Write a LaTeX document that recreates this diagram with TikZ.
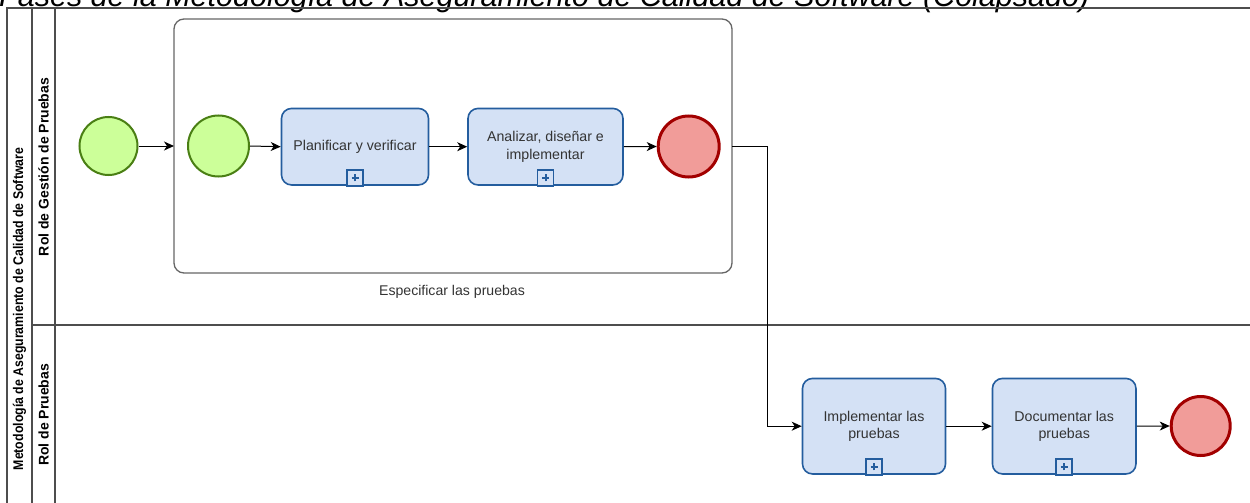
\documentclass[tikz,border=0pt]{standalone}
\usepackage{fontspec}
\setmainfont{Liberation Sans}
\usetikzlibrary{arrows.meta,calc}
\definecolor{startfill}{HTML}{CCFF99}
\definecolor{startdraw}{HTML}{4A7F14}
\definecolor{endfill}{HTML}{F19C99}
\definecolor{enddraw}{HTML}{A20000}
\definecolor{taskfill}{HTML}{D4E1F5}
\definecolor{taskdraw}{HTML}{245D9E}
\definecolor{poolline}{HTML}{4D4D4D}
\definecolor{subline}{HTML}{666666}
\definecolor{txt}{HTML}{333333}
\tikzset{
  startev/.style={circle, draw=startdraw, fill=startfill, line width=2pt, inner sep=0pt},
  endev/.style={circle, draw=enddraw, fill=endfill, line width=3pt, inner sep=0pt},
  taskbox/.style={rectangle, rounded corners=10pt, draw=taskdraw, fill=taskfill, line width=1.6pt,
    text=txt, align=center, font=\fontsize{14.2}{17.5}\selectfont, inner sep=0pt},
  poolln/.style={draw=poolline, line width=1.3pt},
  flow/.style={draw=black, line width=1pt, -{Stealth[length=10pt,width=9pt,inset=3pt]}},
  lanelbl/.style={rotate=90, font=\bfseries\fontsize{14}{16}\selectfont, text=black},
  marker/.style={draw=taskdraw, line width=1.8pt, fill=taskfill}
}
\newcommand{\submark}[1]{%
  \draw[marker] ($(#1.south)+(-8,0)$) rectangle ($(#1.south)+(8,-16)$);
  \draw[draw=taskdraw, line width=2pt] ($(#1.south)+(-3.5,-8)$) -- ($(#1.south)+(3.5,-8)$)
    ($(#1.south)+(0,-4.5)$) -- ($(#1.south)+(0,-11.5)$);
}
\begin{document}
\begin{tikzpicture}[x=1pt,y=-1pt]
\clip (0,0) rectangle (1250,503);
% title
\node[anchor=base west, inner sep=0pt, font=\itshape\fontsize{30.5}{36}\selectfont] (title) at (-1,7)
  {Fases de la Metodología de Aseguramiento de Calidad de Software (Colapsado)};
% pool
\draw[poolln] (7,520) -- (7,8) -- (1260,8);
\draw[poolln] (32,8) -- (32,520);
\draw[poolln] (55,8) -- (55,520);
\draw[poolln] (32,325) -- (1260,325);
\node[lanelbl] (pool) at (19.5,309) {\scalebox{0.88}[1]{Metodología de Aseguramiento de Calidad de Software}};
\node[lanelbl] (lane1) at (43.5,167) {Rol de Gestión de Pruebas};
\node[lanelbl] (lane2) at (43.5,415) {Rol de Pruebas};
% subprocess
\draw[draw=subline, line width=1.3pt, rounded corners=10pt] (174,19) rectangle (732,273);
\coordinate (subW) at (174,146);
\coordinate (subE) at (732,146);
\node[text=txt, font=\fontsize{14.1}{16}\selectfont] (sublbl) at (452,292) {Especificar las pruebas};
% events
\node[startev, minimum size=58pt] (s1) at (108.5,146) {};
\node[startev, minimum size=61pt] (s2) at (218.5,146) {};
\node[endev, minimum size=61pt] (e1) at (688.7,146.5) {};
\node[endev, minimum size=59pt] (e2) at (1200.7,426) {};
% tasks
\node[taskbox, minimum width=147pt, minimum height=76.5pt] (t1) at (355,146.7) {Planificar y verificar};
\node[taskbox, minimum width=155pt, minimum height=76.5pt] (t2) at (545.5,146.7) {Analizar, diseñar e\\implementar};
\node[taskbox, minimum width=143pt, minimum height=95.5pt] (t3) at (874,426.2) {Implementar las\\pruebas};
\node[taskbox, minimum width=143.5pt, minimum height=95.5pt] (t4) at (1064.2,426.2) {Documentar las\\pruebas};
\submark{t1}
\submark{t2}
\submark{t3}
\submark{t4}
% flows
\draw[flow] (s1.east) -- (subW);
\draw[flow] (s2.east) -- (t1.west);
\draw[flow] (t1.east) -- (t2.west);
\draw[flow] (t2.east) -- (e1.west);
\draw[flow] (subE) -- (767,146) |- (t3.west);
\draw[flow] (t3.east) -- (t4.west);
\draw[flow] (t4.east) -- (e2.west);
\end{tikzpicture}
\end{document}
